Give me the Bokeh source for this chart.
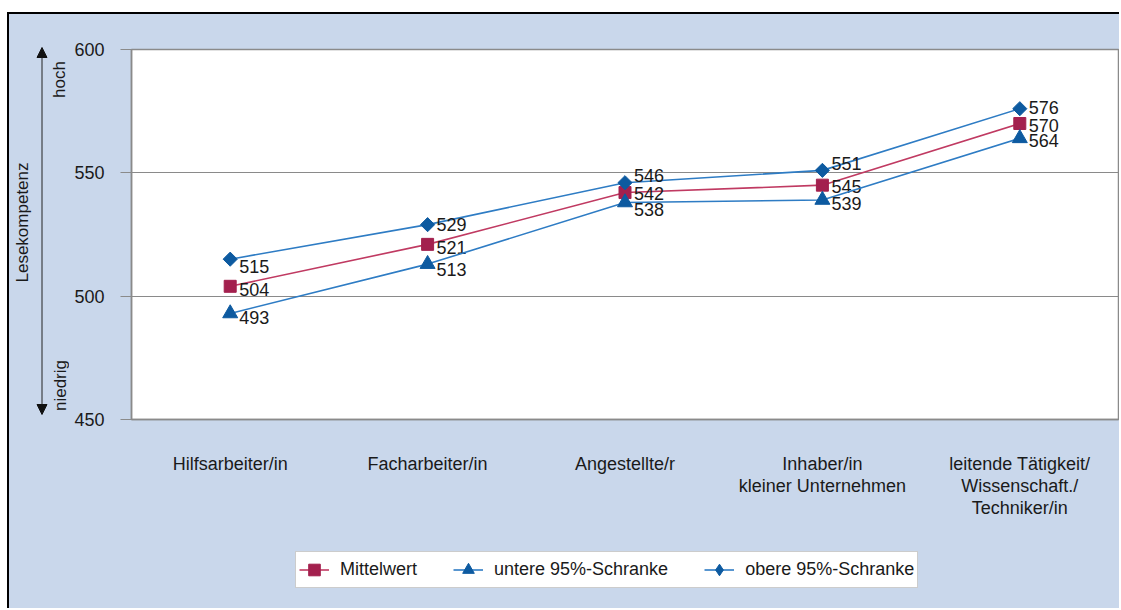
import numpy as np
from bokeh.plotting import figure
from bokeh.models import (FactorRange, Range1d, FixedTicker, Legend, LegendItem,
                          Arrow, NormalHead, Spacer, ColumnDataSource)
from bokeh.layouts import column, row
from bokeh.embed import file_html
from bokeh.resources import INLINE
from bokeh.core.properties import value

# ---- data ----
categories = ["Hilfsarbeiter/in", "Facharbeiter/in", "Angestellte/r",
              "Inhaber/in\nkleiner Unternehmen",
              "leitende Tätigkeit/\nWissenschaft./\nTechniker/in"]
mittelwert = [504, 521, 542, 545, 570]
untere = [493, 513, 538, 539, 564]
obere = [515, 529, 546, 551, 576]
y_ticks = [450, 500, 550, 600]
series_names = ["Mittelwert", "untere 95%-Schranke", "obere 95%-Schranke"]
y_axis_title = "Lesekompetenz"
hoch_text = "hoch"
niedrig_text = "niedrig"

# ---- style ----
FONT = "Liberation Sans"
BG = "#C9D7EB"
TXT = "#1a1a1a"
GRAY = "#8a8a8a"
RED_LINE, RED_MARK = "#C03A62", "#A3204E"
BLUE_LINE, BLUE_MARK = "#2E7CC4", "#0D5AA0"
label_dy = {  # pixel offsets for value labels
    "Mittelwert": [3, 3, 1, 1, 2],
    "untere 95%-Schranke": [4, 5, 7, 4, 2],
    "obere 95%-Schranke": [7, 0, -7, -7, -1],
}

H = 594          # total height
H1 = 526         # main chart height
H2 = H - H1      # legend strip height
LW = 60          # width of the left strip with the axis title
W = 1050         # width of main figure


def strip(width, height, x_range):
    f = figure(width=width, height=height, x_range=x_range,
               y_range=Range1d(0, height), output_backend="svg",
               toolbar_location=None, x_axis_location=None, y_axis_location=None,
               min_border_left=0, min_border_right=0, min_border_top=0,
               min_border_bottom=0)
    f.grid.visible = False
    f.outline_line_color = None
    f.background_fill_color = BG
    f.border_fill_color = BG
    return f


# ---- left strip: axis title, arrow, hoch / niedrig ----
pl = strip(LW, H, Range1d(0, LW))
pl.text(x=[13], y=[386], text=[y_axis_title], angle=np.pi / 2,
        text_align="center", text_baseline="middle", text_font=value(FONT),
        text_font_size="17px", text_color=TXT)
pl.text(x=[50, 51], y=[529, 223], text=[hoch_text, niedrig_text], angle=np.pi / 2,
        text_align="center", text_baseline="middle", text_font=value(FONT),
        text_font_size="17px", text_color=TXT)
pl.add_layout(Arrow(start=NormalHead(size=10, fill_color="#111", line_color="#111"),
                    end=NormalHead(size=10, fill_color="#111", line_color="#111"),
                    x_start=32.5, y_start=194, x_end=32.5, y_end=561,
                    line_color="#222", line_width=1))

# ---- main chart ----
p = figure(width=W, height=H1, x_range=FactorRange(*categories, range_padding=0),
           y_range=Range1d(450, 600), output_backend="svg", toolbar_location=None,
           min_border_left=62, min_border_top=35, min_border_bottom=121,
           min_border_right=1)
p.border_fill_color = BG
p.background_fill_color = "white"
p.outline_line_color = GRAY
p.outline_line_width = 1.5

p.xgrid.visible = False
p.ygrid.ticker = FixedTicker(ticks=y_ticks)
p.ygrid.grid_line_color = GRAY
p.ygrid.grid_line_width = 1.2

p.yaxis.ticker = FixedTicker(ticks=y_ticks)
p.yaxis.axis_line_color = GRAY
p.yaxis.axis_line_width = 1.5
p.yaxis.major_tick_line_color = GRAY
p.yaxis.major_tick_line_width = 1.2
p.yaxis.major_tick_out = 11
p.yaxis.major_tick_in = 0
p.yaxis.minor_tick_line_color = None
p.yaxis.major_label_standoff = 16
p.yaxis.major_label_text_font = FONT
p.yaxis.major_label_text_font_size = "18px"
p.yaxis.major_label_text_color = TXT

p.xaxis.axis_line_color = GRAY
p.xaxis.axis_line_width = 1.5
p.xaxis.major_tick_line_color = None
p.xaxis.major_tick_out = 0
p.xaxis.major_tick_in = 0
p.xaxis.minor_tick_line_color = None
p.xaxis.major_label_standoff = 34
p.xaxis.major_label_text_font = FONT
p.xaxis.major_label_text_font_size = "18px"
p.xaxis.major_label_text_color = TXT
p.xaxis.major_label_text_line_height = 1.1

# ---- legend strip (same series drawn outside its visible y-range) ----
pg = strip(W, H2, FactorRange(*categories, range_padding=0))

series = [
    ("Mittelwert", mittelwert, RED_LINE, RED_MARK, "square", 12, 0.0, "square"),
    ("untere 95%-Schranke", untere, BLUE_LINE, BLUE_MARK, "triangle", 15, 0.0, "triangle"),
    ("obere 95%-Schranke", obere, BLUE_LINE, BLUE_MARK, "square", 10, np.pi / 4, "diamond"),
]
items = []
for name, vals, lc, mc, marker, size, ang, leg_marker in series:
    src = ColumnDataSource(dict(x=categories, y=vals, t=[str(v) for v in vals],
                                dy=label_dy[name]))
    p.line("x", "y", source=src, line_color=lc, line_width=1.6)
    p.scatter("x", "y", source=src, marker=marker, size=size, angle=ang,
              fill_color=mc, line_color=mc)
    p.text("x", "y", text="t", source=src, x_offset=9, y_offset="dy",
           text_font=value(FONT), text_font_size="18px", text_color=TXT,
           text_baseline="middle", text_align="left")
    lr = pg.line("x", "y", source=src, line_color=lc, line_width=1.6)
    sr = pg.scatter("x", "y", source=src, marker=leg_marker, size=size,
                    fill_color=mc, line_color=mc)
    items.append(LegendItem(label=name, renderers=[lr, sr]))

legend = Legend(items=items, orientation="horizontal", location=(164, 20),
                label_text_font=FONT, label_text_font_size="18px",
                label_text_color=TXT, glyph_width=30, glyph_height=29,
                label_standoff=11, spacing=36, padding=3, margin=0,
                border_line_color="#9a9a9a", background_fill_color="white",
                background_fill_alpha=1.0)
pg.add_layout(legend, "center")

black = {"background-color": "black"}
layout = column(
    Spacer(width=10, height=12),
    row(Spacer(width=7, height=2), Spacer(width=2 + LW + W, height=2, styles=black)),
    row(Spacer(width=7, height=H), Spacer(width=2, height=H, styles=black),
        row(pl, column(p, pg, styles={"background-color": BG}),
            styles={"background-color": BG})),
)

open("out.html", "w").write(file_html(layout, INLINE))
